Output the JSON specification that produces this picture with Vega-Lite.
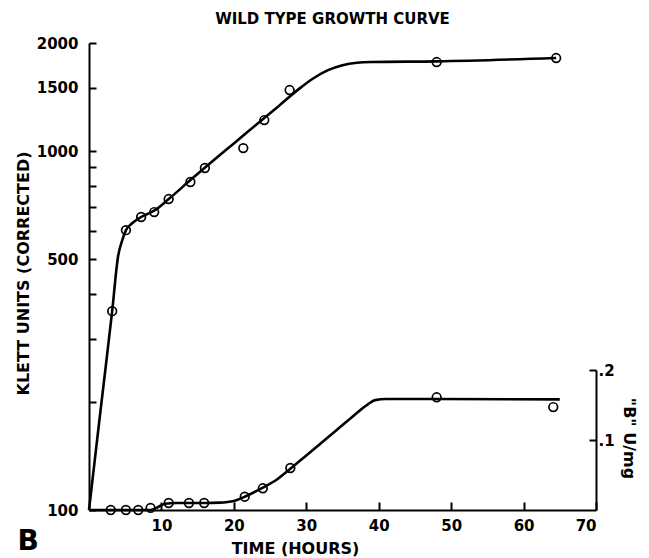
{
  "$schema": "https://vega.github.io/schema/vega-lite/v6.json",
  "width": 507,
  "height": 467,
  "autosize": "none",
  "padding": {"left": 89, "top": 43, "right": 53, "bottom": 48},
  "background": "white",
  "config": {
    "view": {"stroke": null},
    "font": "DejaVu Sans",
    "axis": {
      "grid": false,
      "domainColor": "black",
      "domainWidth": 2,
      "tickColor": "black",
      "tickWidth": 2,
      "labelColor": "black",
      "titleColor": "black",
      "labelFont": "DejaVu Sans",
      "titleFont": "DejaVu Sans",
      "labelFontSize": 15,
      "labelFontWeight": "bold",
      "titleFontSize": 16,
      "titleFontWeight": "bold"
    }
  },
  "title": {
    "text": "WILD TYPE GROWTH CURVE",
    "font": "DejaVu Sans",
    "fontSize": 15,
    "fontWeight": "bold",
    "color": "black",
    "dx": -10,
    "offset": 9
  },
  "datasets": {
    "klett_curve": [
      {"t": 0, "klett": 100},
      {"t": 1.6, "klett": 190},
      {"t": 3.2, "klett": 358},
      {"t": 4.0, "klett": 507},
      {"t": 4.6, "klett": 565},
      {"t": 5.1, "klett": 602},
      {"t": 6.0, "klett": 630},
      {"t": 7.2, "klett": 655},
      {"t": 9.0, "klett": 682},
      {"t": 11.0, "klett": 735},
      {"t": 14.0, "klett": 830},
      {"t": 17.0, "klett": 935},
      {"t": 20.0, "klett": 1050},
      {"t": 23.0, "klett": 1180},
      {"t": 26.0, "klett": 1325},
      {"t": 29.0, "klett": 1490},
      {"t": 31.0, "klett": 1595},
      {"t": 33.0, "klett": 1680},
      {"t": 35.0, "klett": 1735},
      {"t": 37.0, "klett": 1762},
      {"t": 39.0, "klett": 1770},
      {"t": 48.0, "klett": 1778},
      {"t": 64.5, "klett": 1816}
    ],
    "klett_points": [
      {"t": 3.2, "klett": 358},
      {"t": 5.1, "klett": 602},
      {"t": 7.2, "klett": 655},
      {"t": 9.0, "klett": 676},
      {"t": 11.0, "klett": 735},
      {"t": 14.0, "klett": 820},
      {"t": 16.0, "klett": 897},
      {"t": 21.3, "klett": 1019},
      {"t": 24.2, "klett": 1220},
      {"t": 27.7, "klett": 1479},
      {"t": 48.0, "klett": 1770},
      {"t": 64.5, "klett": 1816}
    ],
    "b_curve": [
      {"t": 0, "b": 0},
      {"t": 8.5, "b": 0},
      {"t": 9.5, "b": 0.004},
      {"t": 10.5, "b": 0.009},
      {"t": 12.0, "b": 0.01},
      {"t": 16.0, "b": 0.01},
      {"t": 18.0, "b": 0.0105},
      {"t": 20.0, "b": 0.013},
      {"t": 21.5, "b": 0.019},
      {"t": 24.0, "b": 0.032},
      {"t": 26.0, "b": 0.044},
      {"t": 27.8, "b": 0.059},
      {"t": 30.0, "b": 0.078},
      {"t": 33.0, "b": 0.104},
      {"t": 36.0, "b": 0.130},
      {"t": 38.5, "b": 0.151},
      {"t": 39.5, "b": 0.157},
      {"t": 41.0, "b": 0.1585},
      {"t": 48.0, "b": 0.1585},
      {"t": 65.0, "b": 0.158}
    ],
    "b_points": [
      {"t": 3.0, "b": 0},
      {"t": 5.1, "b": 0},
      {"t": 6.8, "b": 0},
      {"t": 8.5, "b": 0.003},
      {"t": 11.0, "b": 0.01},
      {"t": 13.8, "b": 0.01},
      {"t": 15.9, "b": 0.01},
      {"t": 21.5, "b": 0.019},
      {"t": 24.0, "b": 0.031},
      {"t": 27.8, "b": 0.06},
      {"t": 48.0, "b": 0.161},
      {"t": 64.1, "b": 0.147}
    ]
  },
  "layer": [
    {
      "layer": [
        {
          "data": {"name": "klett_curve"},
          "mark": {"type": "line", "color": "black", "strokeWidth": 2.6, "interpolate": "monotone"},
          "encoding": {
            "x": {
              "field": "t", "type": "quantitative",
              "scale": {"domain": [0, 70], "nice": false, "zero": false},
              "axis": {
                "values": [10, 20, 30, 40, 50, 60, 70],
                "tickSize": -8,
                "labelPadding": 16,
                "title": "TIME (HOURS)",
                "titleX": 206,
                "titleY": 38,
                "titleBaseline": "middle",
                "titleAnchor": null
              }
            },
            "y": {
              "field": "klett", "type": "quantitative",
              "scale": {"type": "log", "domain": [100, 2000], "nice": false},
              "axis": {
                "orient": "left",
                "values": [100, 200, 300, 400, 500, 600, 700, 800, 900, 1000, 1500, 2000],
                "labelExpr": "(datum.value == 100 || datum.value == 500 || datum.value == 1000 || datum.value == 1500 || datum.value == 2000) ? format(datum.value, 'd') : ''",
                "tickSize": -7,
                "labelPadding": 18,
                "title": "KLETT UNITS (CORRECTED)",
                "titleX": -66,
                "titleY": 230,
                "titleBaseline": "middle",
                "titleAngle": -90
              }
            }
          }
        },
        {
          "data": {"name": "klett_points"},
          "mark": {"type": "point", "shape": "circle", "filled": false, "color": "black", "size": 75, "strokeWidth": 1.7, "opacity": 1},
          "encoding": {
            "x": {"field": "t", "type": "quantitative"},
            "y": {"field": "klett", "type": "quantitative"}
          }
        },
        {
          "data": {"values": [{"label": "B"}]},
          "mark": {"type": "text", "fontSize": 28, "fontWeight": "bold", "font": "DejaVu Sans", "color": "black", "align": "center", "baseline": "middle"},
          "encoding": {
            "text": {"field": "label", "type": "nominal"},
            "x": {"datum": -8.4},
            "y": {"datum": 81.5}
          }
        }
      ]
    },
    {
      "layer": [
        {
          "data": {"name": "b_curve"},
          "mark": {"type": "line", "color": "black", "strokeWidth": 2.6, "interpolate": "monotone"},
          "encoding": {
            "x": {"field": "t", "type": "quantitative"},
            "y": {
              "field": "b", "type": "quantitative",
              "scale": {"domain": [0, 0.2], "nice": false, "range": [467, 327]},
              "axis": {
                "orient": "right",
                "values": [0.1, 0.2],
                "labelExpr": "replace(format(datum.value, '.1f'), '0.', '.')",
                "tickSize": -7,
                "labelPadding": 9,
                "title": "\"B\" U/mg",
                "titleX": 32,
                "titleY": 395,
                "titleBaseline": "middle",
                "titleAngle": 90
              }
            }
          }
        },
        {
          "data": {"name": "b_points"},
          "mark": {"type": "point", "shape": "circle", "filled": false, "color": "black", "size": 75, "strokeWidth": 1.7, "opacity": 1},
          "encoding": {
            "x": {"field": "t", "type": "quantitative"},
            "y": {"field": "b", "type": "quantitative"}
          }
        }
      ]
    }
  ],
  "resolve": {"scale": {"y": "independent"}}
}
